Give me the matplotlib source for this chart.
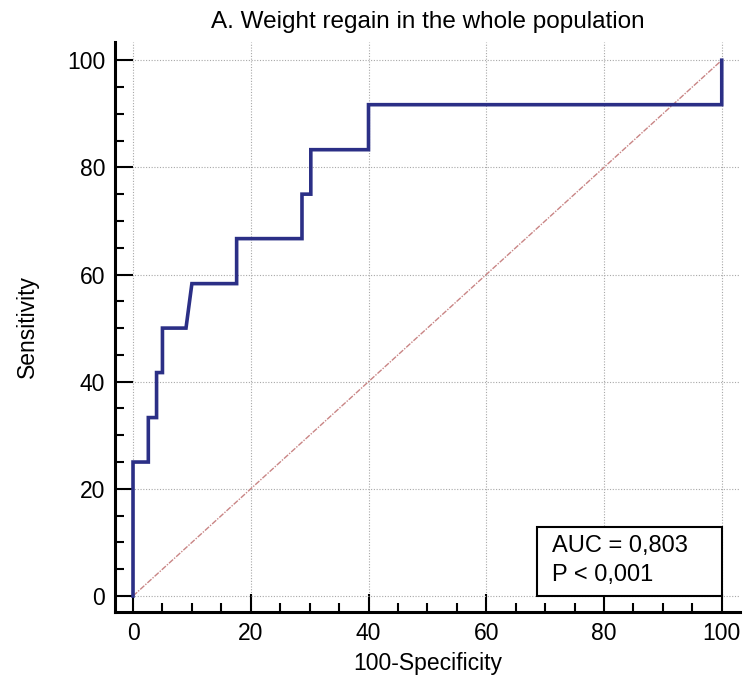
import matplotlib
matplotlib.use("Agg")
import matplotlib.pyplot as plt
from matplotlib.patches import Rectangle
from matplotlib.ticker import MultipleLocator

plt.rcParams['font.family'] = ['Liberation Sans', 'DejaVu Sans']

# ROC step curve (100-Specificity, Sensitivity)
fpr = [0, 0, 2.6, 2.6, 4.0, 4.0, 5.0, 5.0, 9.0, 10.0, 17.6, 17.6,
       28.7, 28.7, 30.2, 30.2, 40.0, 40.0, 100.0, 100.0]
tpr = [0, 25.0, 25.0, 33.3, 33.3, 41.7, 41.7, 50.0, 50.0, 58.3, 58.3, 66.7,
       66.7, 75.0, 75.0, 83.3, 83.3, 91.7, 91.7, 100.0]
diag_x = [0, 100]
diag_y = [0, 100]
ticks = [0, 20, 40, 60, 80, 100]
title = "A. Weight regain in the whole population"
xlabel = "100-Specificity"
ylabel = "Sensitivity"
auc_text = "AUC = 0,803"
p_text = "P < 0,001"

fig = plt.figure(figsize=(7.43, 6.78), dpi=100)
ax = fig.add_axes([115/743, 1-612/678, (740-115)/743, (612-42)/678])

ax.set_xlim(-3.06, 103.1)
ax.set_ylim(-2.99, 103.4)

ax.grid(True, which='major', linestyle=(0, (1, 1.5)), color='#a8a8a8', linewidth=0.8)
ax.set_axisbelow(True)

ax.plot(diag_x, diag_y, color='#c98585', linewidth=1.0, linestyle=(0, (4, 1, 1, 1)), zorder=2)
ax.plot(fpr, tpr, color='#2b2f86', linewidth=2.6, solid_joinstyle='miter', zorder=3)

ax.set_xticks(ticks)
ax.set_yticks(ticks)
ax.xaxis.set_minor_locator(MultipleLocator(5))
ax.yaxis.set_minor_locator(MultipleLocator(5))
ax.tick_params(which='major', direction='in', length=13, width=1.5, labelsize=16.5, pad=7)
ax.tick_params(which='minor', direction='in', length=6.5, width=1.5)

for s in ['top', 'right']:
    ax.spines[s].set_visible(False)
for s in ['left', 'bottom']:
    ax.spines[s].set_linewidth(2.2)

ax.set_title(title, fontsize=17.5, pad=10)
ax.set_xlabel(xlabel, fontsize=16.5, labelpad=5)
ax.set_ylabel(ylabel, fontsize=16.5, labelpad=20)

ax.add_patch(Rectangle((68.6, 0), 31.4, 12.9, fill=True, facecolor='white',
                       edgecolor='black', linewidth=1.5, zorder=4))
ax.text(71.2, 9.3, auc_text, fontsize=17, va='center', ha='left', zorder=5)
ax.text(71.2, 3.9, p_text, fontsize=17, va='center', ha='left', zorder=5)

fig.savefig("out.png", dpi=100)
